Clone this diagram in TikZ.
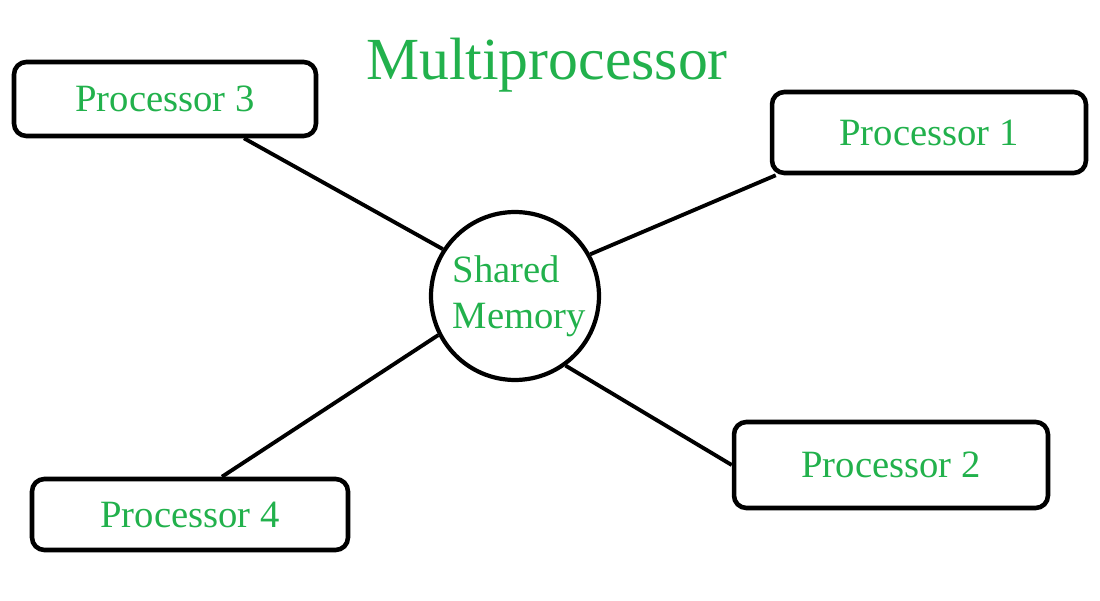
\documentclass[tikz,border=0pt]{standalone}
\usepackage{fontspec}
\setmainfont{Liberation Serif}
\usepackage{xcolor}
\usepackage{tikz}
\usetikzlibrary{
	calc,
	shapes.geometric
}
\definecolor{PaintGreen}{RGB}{34,177,76}

\begin{document}
\begin{tikzpicture}[x=0.02cm, y=-0.02cm,
		procbox/.style={draw, line width=2.6pt, rounded corners=7pt, text=PaintGreen, font=\fontsize{22}{26}\selectfont},
		memcircle/.style={draw, circle, line width=2.4pt, minimum size=3.36cm, text=PaintGreen, align=left, inner sep=0pt, font=\fontsize{22}{26}\selectfont},
		link/.style={line width=2.2pt}]
			\useasboundingbox (0,0) rectangle (1100,601);
			\node[text=PaintGreen, font=\fontsize{34}{40}\selectfont, anchor=base] (title) at (547,80) {Multiprocessor};
			\node[memcircle] (mem) at (515,296) {\hspace*{5pt}Shared\\\hspace*{5pt}Memory};
			\node[procbox, minimum width=6.04cm, minimum height=1.48cm] (p3) at (165,99) {Processor 3};
			\node[procbox, minimum width=6.28cm, minimum height=1.62cm] (p1) at (929,132.5) {Processor 1};
			\node[procbox, minimum width=6.28cm, minimum height=1.72cm] (p2) at (891,465) {Processor 2};
			\node[procbox, minimum width=6.32cm, minimum height=1.42cm] (p4) at (190,514.5) {Processor 4};
			\draw[link] ($(p3.south)+(79,0)$) -- (mem.147);
			\draw[link] ($(p1.south west)+(6,0)$) -- (mem.29);
			\draw[link] (p2.west) -- (mem.-54);
			\draw[link] ($(p4.north)+(32,0)$) -- (mem.207);
		\end{tikzpicture}
\end{document}
